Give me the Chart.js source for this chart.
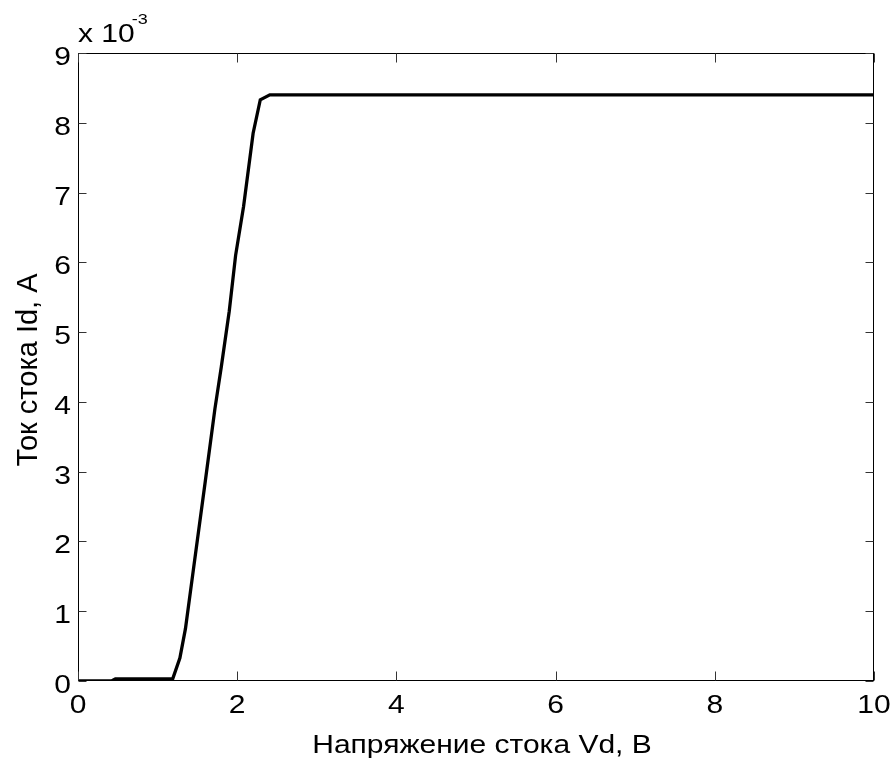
<!DOCTYPE html>
<html><head><meta charset="utf-8">
<script src="https://cdn.jsdelivr.net/npm/chart.js@4/dist/chart.umd.min.js"></script>
<style>html,body{margin:0;padding:0;background:#fff}</style>
</head><body>
<canvas id="c" width="895" height="761"></canvas>
<script>
// Drain voltage, V
const vd = [0, 0.42, 0.47, 1.19, 1.28, 1.35, 1.45, 1.60, 1.72, 1.80, 1.90, 1.98, 2.08, 2.20, 2.29, 2.41, 10];
// Drain current, A
const idA = [0, 0, 0.00003, 0.00003, 0.00033, 0.00075, 0.0016, 0.00287, 0.0039, 0.0045, 0.0053, 0.0061, 0.0068, 0.00785, 0.00833, 0.0084, 0.0084];
const xTicks = [0, 2, 4, 6, 8, 10];
const yTicks = [0, 1, 2, 3, 4, 5, 6, 7, 8, 9]; // ×10^-3
const xTitle = 'Напряжение стока Vd, В';
const yTitle = 'Ток стока Id, А';
const expBase = 'x 10';
const expPow = '-3';

const FONT = '"Liberation Sans", Arial, sans-serif';
const SX = 1.2; // horizontal stretch of the reference's text

function txt(ctx, s, x, y, size, align, sx) {
  ctx.save();
  ctx.translate(x, y);
  ctx.scale(sx, 1);
  ctx.font = size + 'px ' + FONT;
  ctx.textAlign = align;
  ctx.textBaseline = 'alphabetic';
  ctx.fillText(s, 0, 0);
  ctx.restore();
}

const framePlugin = {
  id: 'frame',
  afterDraw(chart) {
    const ctx = chart.ctx, a = chart.chartArea;
    const xs = chart.scales.x, ys = chart.scales.y;
    ctx.save();
    ctx.strokeStyle = '#000';
    ctx.lineWidth = 1;
    const L = Math.round(a.left) + 0.5, R = Math.round(a.right) - 0.5;
    const T = Math.round(a.top) + 0.5, B = Math.round(a.bottom) - 0.5;
    ctx.strokeRect(L, T, R - L, B - T);
    ctx.strokeStyle = '#333';
    ctx.beginPath();
    xTicks.forEach(v => {
      const px = Math.round(xs.getPixelForValue(v)) + 0.5;
      ctx.moveTo(px, B); ctx.lineTo(px, B - 9);
      ctx.moveTo(px, T); ctx.lineTo(px, T + 9);
    });
    yTicks.forEach(v => {
      const py = Math.round(ys.getPixelForValue(v / 1000)) + 0.5;
      ctx.moveTo(L, py); ctx.lineTo(L + 8, py);
      ctx.moveTo(R, py); ctx.lineTo(R - 8, py);
    });
    ctx.stroke();
    ctx.fillStyle = '#000';
    // tick labels
    xTicks.forEach(v => {
      txt(ctx, String(v), xs.getPixelForValue(v), a.bottom + 32, 25, 'center', SX);
    });
    yTicks.forEach(v => {
      txt(ctx, String(v), a.left - 7, ys.getPixelForValue(v / 1000) + 12, 25, 'right', SX);
    });
    // axis titles
    txt(ctx, xTitle, (a.left + a.right) / 2 + 6, 753, 25, 'center', SX);
    ctx.save();
    ctx.translate(37, (a.top + a.bottom) / 2 + 3);
    ctx.rotate(-Math.PI / 2);
    ctx.font = '29px ' + FONT;
    ctx.textAlign = 'center';
    ctx.textBaseline = 'alphabetic';
    ctx.fillText(yTitle, 0, 0);
    ctx.restore();
    // exponent label
    txt(ctx, expBase, a.left, 42, 25, 'left', SX);
    ctx.font = '25px ' + FONT;
    const w = ctx.measureText(expBase).width * SX;
    txt(ctx, expPow, a.left + w - 3, 24, 15, 'left', SX);
    ctx.restore();
  }
};

new Chart(document.getElementById('c'), {
  type: 'scatter',
  data: {
    datasets: [{
      data: vd.map((x, i) => ({x, y: idA[i]})),
      showLine: true,
      borderColor: '#000',
      borderWidth: 3.3,
      pointRadius: 0,
      tension: 0,
      borderJoinStyle: 'miter'
    }]
  },
  options: {
    responsive: false,
    animation: false,
    devicePixelRatio: 1,
    layout: { padding: { top: 53, right: 21, left: 0, bottom: 0 } },
    plugins: { legend: { display: false }, tooltip: { enabled: false } },
    scales: {
      x: {
        type: 'linear', min: 0, max: 10,
        afterBuildTicks: s => { s.ticks = xTicks.map(v => ({value: v})); },
        afterFit: s => { s.height = 80; },
        ticks: { display: false },
        grid: { drawOnChartArea: false, drawTicks: false },
        border: { display: false }
      },
      y: {
        type: 'linear', min: 0, max: 0.009,
        afterBuildTicks: s => { s.ticks = yTicks.map(v => ({value: v / 1000})); },
        afterFit: s => { s.width = 78; },
        ticks: { display: false },
        grid: { drawOnChartArea: false, drawTicks: false },
        border: { display: false }
      }
    }
  },
  plugins: [framePlugin]
});
</script>
</body></html>
